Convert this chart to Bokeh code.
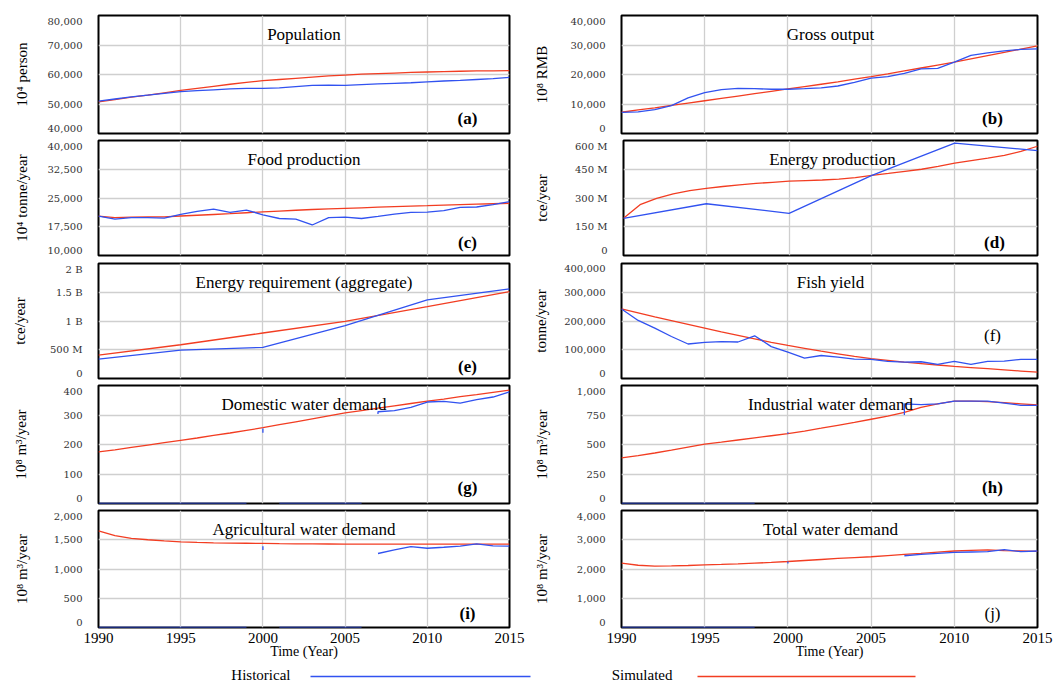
import numpy as np
from bokeh.plotting import figure
from bokeh.layouts import column, row
from bokeh.models import Label, FixedTicker, Range1d
from bokeh.core.properties import value
from bokeh.embed import file_html
from bokeh.resources import INLINE

NaN = float("nan")

# ---------------- data ----------------
years = [1990, 1991, 1992, 1993, 1994, 1995, 1996, 1997, 1998, 1999, 2000, 2001, 2002,
         2003, 2004, 2005, 2006, 2007, 2008, 2009, 2010, 2011, 2012, 2013, 2014, 2015]
years5 = [1990, 1995, 2000, 2005, 2010, 2015]
x_ticks = [1990, 1995, 2000, 2005, 2010, 2015]

# (a) Population, 10^4 person
pop_ticks = [40000, 50000, 60000, 70000, 80000]
pop_tick_labels = ["40,000", "50,000", "60,000", "70,000", "80,000"]
pop_sim = [50700, 51500, 52300, 53000, 53800, 54600, 55300, 56000, 56700, 57300, 57900, 58300, 58700,
           59100, 59500, 59800, 60100, 60300, 60500, 60700, 60850, 61000, 61100, 61200, 61250, 61300]
pop_hist = [51000, 51700, 52400, 53000, 53600, 54200, 54500, 54800, 55100, 55300, 55300, 55500, 55900,
            56300, 56400, 56300, 56600, 56800, 57000, 57200, 57500, 57800, 58000, 58300, 58600, 59000]

# (b) Gross output, 10^8 RMB
gdp_ticks = [0, 10000, 20000, 30000, 40000]
gdp_tick_labels = ["0", "10,000", "20,000", "30,000", "40,000"]
gdp_sim = [7200, 8000, 8700, 9500, 10300, 11100, 11900, 12700, 13500, 14300, 15100, 15900, 16700,
           17500, 18400, 19250, 20200, 21200, 22200, 23200, 24200, 25300, 26400, 27500, 28600, 29700]
gdp_hist = [7150, 7300, 8070, 9450, 12100, 13830, 14870, 15330, 15200, 15000, 15000, 15200, 15450,
            16100, 17300, 18800, 19250, 20400, 21900, 22100, 24200, 26500, 27300, 28000, 28500, 28700]

# (c) Food production, 10^4 tonne/year
food_ticks = [10000, 17500, 25000, 32500, 40000]
food_tick_labels = ["10,000", "17,500", "25,000", "32,500", "40,000"]
food_sim = [20270, 19900, 20000, 20050, 20100, 20300, 20500, 20700, 20900, 21150, 21400, 21600, 21800,
            22000, 22150, 22300, 22450, 22600, 22750, 22880, 23000, 23130, 23250, 23380, 23500, 23630]
food_hist = [20270, 19470, 19900, 19900, 19730, 20700, 21500, 22120, 21240, 21860, 20620, 19650, 19470,
             17960, 19900, 20000, 19650, 20180, 20800, 21240, 21330, 21680, 22570, 22650, 23270, 24070]

# (d) Energy production, million tce/year
eprod_ticks = [0, 150, 300, 450, 600]
eprod_tick_labels = ["0", "150 M", "300 M", "450 M", "600 M"]
eprod_sim = [194, 265, 298, 322, 338, 350, 360, 369, 376, 382, 388, 391, 394,
             398, 406, 418, 428, 439, 450, 465, 482, 495, 508, 522, 543, 570]
eprod_hist = [194, 270, 220, 418, 586, 547]

# (e) Energy requirement (aggregate), billion tce/year
ereq_ticks = [0, 0.5, 1, 1.5, 2]
ereq_tick_labels = ["0", "500 M", "1 B", "1.5 B", "2 B"]
ereq_sim = [0.407, 0.587, 0.791, 0.994, 1.25, 1.512]
ereq_hist = [0.337, 0.494, 0.541, 0.919, 1.366, 1.558]

# (f) Fish yield, tonne/year
fish_ticks = [0, 100000, 200000, 300000, 400000]
fish_tick_labels = ["0", "100,000", "200,000", "300,000", "400,000"]
fish_sim = [242000, 228000, 214000, 201000, 188000, 175000, 162000, 150000, 138000, 126000, 115000,
            105000, 95000, 86000, 77000, 69000, 63000, 57000, 52000, 47000, 42000, 38000, 34000,
            30000, 26000, 22000]
fish_hist = [242000, 202000, 175000, 146000, 120000, 125700, 128000, 126900, 148600, 110900, 91400,
             70900, 80000, 74300, 67400, 66300, 59400, 57100, 58300, 49100, 59400, 49100, 59400,
             60600, 66300, 66300]

# (g) Domestic water demand, 10^8 m3/year
dom_ticks = [0, 100, 200, 300, 400]
dom_tick_labels = ["0", "100", "200", "300", "400"]
dom_sim = [175, 182, 190, 198, 206, 214, 222, 231, 239, 248, 257, 267, 277,
           287, 297, 307, 315, 323, 331, 339, 347, 354, 362, 369, 377, 384]
dom_hist_x = [1990, 1991, 1992, 1993, 1994, 1995, 1996, 1997, 1998, 1999, NaN, 2000, 2000, NaN,
              2001, 2002, 2003, 2004, 2005, 2006, NaN,
              2007, 2007, 2008, 2009, 2010, 2011, 2012, 2013, 2014, 2015]
dom_hist_y = [0, 0, 0, 0, 0, 0, 0, 0, 0, 0, NaN, 254, 240, NaN,
              0, 0, 0, 0, 0, 0, NaN,
              303, 311, 315, 326, 344, 346, 340, 352, 361, 378]

# (h) Industrial water demand, 10^8 m3/year
ind_ticks = [0, 250, 500, 750, 1000]
ind_tick_labels = ["0", "250", "500", "750", "1,000"]
ind_sim = [387, 405, 428, 452, 478, 503, 520, 538, 556, 574, 592, 614, 638,
           663, 688, 714, 740, 772, 815, 845, 867, 868, 864, 855, 845, 835]
ind_hist_x = [1990, 1991, 1992, 1993, 1994, 1995, 1996, 1997, 1998, NaN, 2000, 2000, NaN,
              2007, 2007, 2008, 2009, 2010, 2011, 2012, 2013, 2014, 2015]
ind_hist_y = [0, 0, 0, 0, 0, 0, 0, 0, 0, NaN, 603, 592, NaN,
              749, 844, 838, 844, 867, 867, 867, 850, 832, 832]

# (i) Agricultural water demand, 10^8 m3/year
agr_ticks = [0, 500, 1000, 1500, 2000]
agr_tick_labels = ["0", "500", "1,000", "1,500", "2,000"]
agr_sim = [1650, 1570, 1525, 1500, 1480, 1465, 1455, 1447, 1442, 1440, 1438, 1433, 1430,
           1428, 1427, 1426, 1425, 1425, 1425, 1425, 1425, 1425, 1425, 1425, 1425, 1425]
agr_hist_x = [1990, 1991, 1992, 1993, 1994, 1995, 1996, 1997, 1998, 1999, NaN, 2000, 2000, NaN,
              2001, 2002, 2003, 2004, 2005, 2006, NaN,
              2007, 2008, 2009, 2010, 2011, 2012, 2013, 2014, 2015]
agr_hist_y = [0, 0, 0, 0, 0, 0, 0, 0, 0, 0, NaN, 1390, 1326, NaN,
              0, 0, 0, 0, 0, 0, NaN,
              1265, 1326, 1384, 1355, 1372, 1390, 1430, 1395, 1390]

# (j) Total water demand, 10^8 m3/year
tot_ticks = [0, 1000, 2000, 3000, 4000]
tot_tick_labels = ["0", "1,000", "2,000", "3,000", "4,000"]
tot_sim = [2198, 2128, 2100, 2105, 2120, 2140, 2155, 2175, 2200, 2225, 2256, 2290, 2325,
           2360, 2390, 2419, 2460, 2500, 2535, 2575, 2616, 2640, 2651, 2628, 2615, 2605]
tot_hist_x = [1990, 1991, 1992, 1993, 1994, 1995, 1996, 1997, 1998, NaN, 2000, 2000, NaN,
              2007, 2008, 2009, 2010, 2011, 2012, 2013, 2014, 2015]
tot_hist_y = [0, 0, 0, 0, 0, 0, 0, 0, 0, NaN, 2256, 2186, NaN,
              2453, 2500, 2535, 2570, 2581, 2593, 2663, 2593, 2616]

legend_labels = ["Historical", "Simulated"]

# ---------------- styling / layout ----------------
BLUE = "#3152f0"
RED = "#f23d22"
SERIF = "Liberation Serif"
TICKFONT = "DejaVu Serif"
TICK_PX = 10
END_LABEL_INSET = 5.5   # px: end tick labels sit slightly inside the panel, as in the reference
# approximate advance widths (em) of DejaVu Serif, used only to place the y-axis titles
CHAR_EM = {",": 0.318, ".": 0.318, " ": 0.318, "M": 0.863, "B": 0.734}

ROW_TOP = [15, 3, 4, 4, 4]
ROW_FRAME = [118, 115, 115, 118, 117]
ROW_BOTTOM = [4, 4, 3, 3, 39]
COLS = [dict(width=530, left=98, right=21, ylab_dist=75, letter_dx=-42),
        dict(width=527, left=89, right=20, ylab_dist=78, letter_dx=-47)]


def label_width(s):
    return sum(CHAR_EM.get(ch, 0.636) for ch in s) * TICK_PX


def make_panel(r, c, title, letter, ylabel, ticks, tick_labels, sim_x, sim_y, hist_x, hist_y,
               letter_bold=True, letter_y=15):
    col = COLS[c]
    fh = ROW_FRAME[r]
    fw = col["width"] - col["left"] - col["right"]
    h = ROW_TOP[r] + fh + ROW_BOTTOM[r]
    bottom = (r == 4)
    p = figure(width=col["width"], height=h,
               x_range=Range1d(1990, 2015), y_range=Range1d(ticks[0], ticks[-1]),
               output_backend="svg", toolbar_location=None,
               x_axis_location="below" if bottom else None,
               min_border_left=col["left"], min_border_right=col["right"],
               min_border_top=ROW_TOP[r], min_border_bottom=ROW_BOTTOM[r])
    p.outline_line_color = "black"
    p.outline_line_width = 2
    p.background_fill_color = "white"
    p.border_fill_color = "white"
    p.xgrid.ticker = FixedTicker(ticks=x_ticks)
    p.ygrid.ticker = FixedTicker(ticks=ticks)
    p.xgrid.grid_line_color = "#cfcfcf"
    p.ygrid.grid_line_color = "#cfcfcf"
    p.xgrid.grid_line_width = 1.3
    p.ygrid.grid_line_width = 1.3

    ya = p.yaxis[0]
    # label positions: the two end labels are nudged a few pixels inward
    d = END_LABEL_INSET / fh * (ticks[-1] - ticks[0])
    label_pos = [float("%.8g" % v) for v in
                 [ticks[0] + d] + list(ticks[1:-1]) + [ticks[-1] - d]]
    ya.ticker = FixedTicker(ticks=label_pos)
    ya.major_label_overrides = {t: s for t, s in zip(label_pos, tick_labels)}
    ya.major_tick_in = 0
    ya.major_tick_out = 0
    ya.minor_tick_line_color = None
    ya.axis_line_color = None
    ya.major_label_standoff = 16
    ya.major_label_text_font = TICKFONT
    ya.major_label_text_font_size = "%dpx" % TICK_PX
    ya.major_label_text_color = "#333333"
    wmax = max(label_width(s) for s in tick_labels)
    ya.axis_label = ylabel
    ya.axis_label_text_font = SERIF
    ya.axis_label_text_font_size = "15px"
    ya.axis_label_text_font_style = "normal"
    ya.axis_label_text_color = "black"
    ya.axis_label_standoff = int(round(col["ylab_dist"] - 9 - 16 - wmax))

    if bottom:
        xa = p.xaxis[0]
        xa.ticker = FixedTicker(ticks=x_ticks)
        xa.major_tick_in = 0
        xa.major_tick_out = 0
        xa.minor_tick_line_color = None
        xa.axis_line_color = None
        xa.major_label_standoff = 5
        xa.major_label_text_font = SERIF
        xa.major_label_text_font_size = "15px"
        xa.major_label_text_color = "black"
        xa.axis_label = "Time (Year)"
        xa.axis_label_text_font = SERIF
        xa.axis_label_text_font_size = "14px"
        xa.axis_label_text_font_style = "normal"
        xa.axis_label_text_color = "black"
        xa.axis_label_standoff = -2

    p.line(x=np.array(sim_x, dtype=float), y=np.array(sim_y, dtype=float),
           line_color=RED, line_width=1.3)
    p.line(x=np.array(hist_x, dtype=float), y=np.array(hist_y, dtype=float),
           line_color=BLUE, line_width=1.3)

    p.add_layout(Label(x=fw / 2, y=fh - 19, x_units="screen", y_units="screen", text=title,
                       text_align="center", text_baseline="middle", text_font=SERIF,
                       text_font_size="17px", text_color="black"))
    p.add_layout(Label(x=fw + col["letter_dx"], y=letter_y, x_units="screen", y_units="screen",
                       text=letter, text_align="center", text_baseline="middle", text_font=SERIF,
                       text_font_size="17px", text_color="black",
                       text_font_style="bold" if letter_bold else "normal"))
    return p


pa = make_panel(0, 0, "Population", "(a)", "10⁴ person", pop_ticks, pop_tick_labels,
                years, pop_sim, years, pop_hist)
pb = make_panel(0, 1, "Gross output", "(b)", "10⁸ RMB", gdp_ticks, gdp_tick_labels,
                years, gdp_sim, years, gdp_hist)
pc = make_panel(1, 0, "Food production", "(c)", "10⁴ tonne/year", food_ticks, food_tick_labels,
                years, food_sim, years, food_hist, letter_y=13)
pd = make_panel(1, 1, "Energy production", "(d)", "tce/year", eprod_ticks, eprod_tick_labels,
                years, eprod_sim, years5, eprod_hist, letter_y=13)
pe = make_panel(2, 0, "Energy requirement (aggregate)", "(e)", "tce/year", ereq_ticks, ereq_tick_labels,
                years5, ereq_sim, years5, ereq_hist, letter_y=12)
pf = make_panel(2, 1, "Fish yield", "(f)", "tonne/year", fish_ticks, fish_tick_labels,
                years, fish_sim, years, fish_hist, letter_bold=False, letter_y=43)
pg = make_panel(3, 0, "Domestic water demand", "(g)", "10⁸ m³/year", dom_ticks, dom_tick_labels,
                years, dom_sim, dom_hist_x, dom_hist_y, letter_y=16)
ph = make_panel(3, 1, "Industrial water demand", "(h)", "10⁸ m³/year", ind_ticks, ind_tick_labels,
                years, ind_sim, ind_hist_x, ind_hist_y, letter_y=16)
pi = make_panel(4, 0, "Agricultural water demand", "(i)", "10⁸ m³/year", agr_ticks, agr_tick_labels,
                years, agr_sim, agr_hist_x, agr_hist_y, letter_y=14)
pj = make_panel(4, 1, "Total water demand", "(j)", "10⁸ m³/year", tot_ticks, tot_tick_labels,
                years, tot_sim, tot_hist_x, tot_hist_y, letter_bold=False, letter_y=14)

# ---------------- legend strip ----------------
LEG_TOP = sum(ROW_TOP[i] + ROW_FRAME[i] + ROW_BOTTOM[i] for i in range(5))
LEG_H = 682 - LEG_TOP
leg = figure(width=1057, height=LEG_H, x_range=Range1d(0, 1057), y_range=Range1d(0, LEG_H),
             output_backend="svg", toolbar_location=None, title=None,
             x_axis_location=None, y_axis_location=None,
             min_border_left=0, min_border_right=0, min_border_top=0, min_border_bottom=0)
leg.outline_line_color = None
leg.background_fill_color = "white"
leg.border_fill_color = "white"
leg.xgrid.visible = False
leg.ygrid.visible = False
leg.text(x=[290, 672], y=[LEG_H - 8, LEG_H - 8], text=legend_labels, text_align="right",
         text_baseline="middle", text_font=value(SERIF), text_font_size="15px",
         text_color="black")
leg.line(x=[310, 530], y=[6, 6], line_color=BLUE, line_width=1.5)
leg.line(x=[697, 915], y=[6, 6], line_color=RED, line_width=1.5)

layout = column(row(pa, pb), row(pc, pd), row(pe, pf), row(pg, ph), row(pi, pj), leg)

open("out.html", "w").write(file_html(layout, INLINE))
